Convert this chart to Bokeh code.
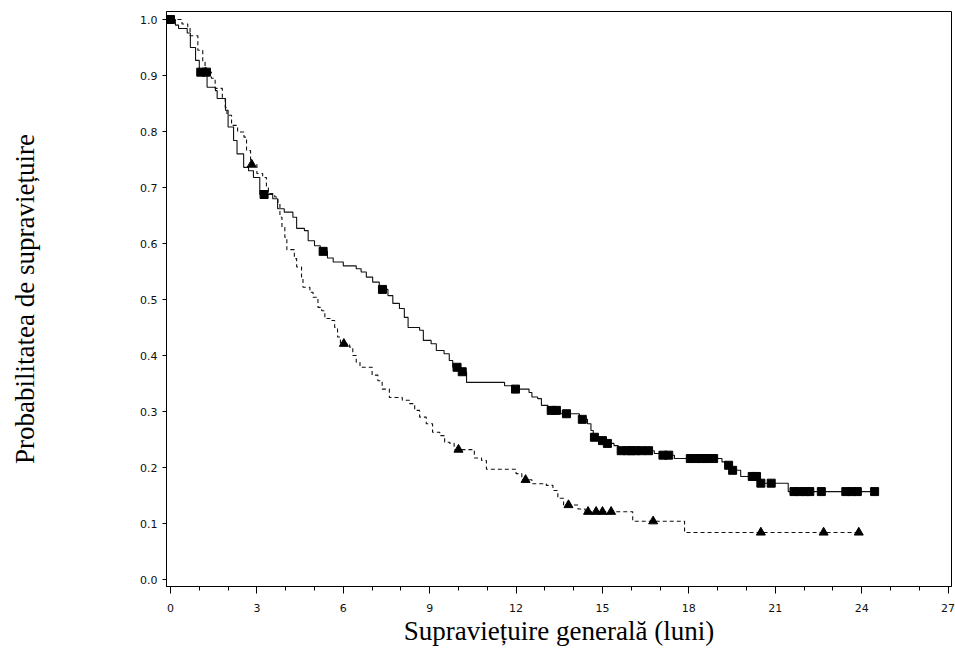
import numpy as np
from bokeh.plotting import figure
from bokeh.models import FixedTicker, NumeralTickFormatter, Range1d
from bokeh.embed import file_html
from bokeh.resources import INLINE

# Group A (solid line, square censor marks): event times and survival after each step
time_a = [0, 0.17, 0.28, 0.58, 0.69, 0.87, 1.0, 1.27, 1.56, 1.62, 1.91, 2.0, 2.19, 2.31,
          2.54, 2.71, 2.88, 3.1, 3.55, 3.72, 3.95, 4.25, 4.38, 4.65, 4.78, 5.0, 5.2,
          5.45, 5.65, 6.0, 6.45, 6.62, 6.8, 7.02, 7.25, 7.55, 7.72, 7.95, 8.12, 8.25,
          8.65, 8.78, 9.05, 9.23, 9.5, 9.68, 9.8, 10.05, 10.28, 11.6, 11.9, 12.45,
          12.55, 12.75, 12.88, 13.1, 13.55, 14.2, 14.48, 14.6, 14.68, 14.95, 15.12,
          15.4, 15.55, 16.8, 17.05, 17.5, 19.15, 19.35, 19.48, 19.8, 20.45, 21.45]
surv_a = [1.0, 0.99, 0.984, 0.976, 0.95, 0.927, 0.906, 0.879, 0.873, 0.859, 0.838, 0.808,
          0.784, 0.76, 0.736, 0.73, 0.718, 0.6875, 0.68, 0.662, 0.656, 0.647, 0.627,
          0.623, 0.605, 0.596, 0.586, 0.574, 0.567, 0.56, 0.555, 0.549, 0.54, 0.531,
          0.518, 0.507, 0.493, 0.484, 0.468, 0.45, 0.445, 0.427, 0.421, 0.409, 0.403,
          0.391, 0.379, 0.371, 0.352, 0.346, 0.34, 0.334, 0.326, 0.323, 0.311, 0.302,
          0.296, 0.286, 0.278, 0.266, 0.254, 0.248, 0.243, 0.239, 0.23, 0.225, 0.222,
          0.216, 0.21, 0.204, 0.195, 0.184, 0.172, 0.157]
cens_a = [0.0, 1.05, 1.25, 3.25, 5.3, 7.36, 9.95, 10.13, 11.98, 13.22, 13.4, 13.75, 14.3,
          14.72, 15.0, 15.17, 15.65, 15.86, 16.0, 16.15, 16.35, 16.6, 17.1, 17.3, 18.05,
          18.25, 18.45, 18.6, 18.86, 19.38, 19.52, 20.2, 20.35, 20.5, 20.86, 21.65,
          21.85, 22.05, 22.2, 22.6, 23.45, 23.65, 23.85, 24.45]
end_a = 24.5

# Group B (dashed line, triangle censor marks)
time_b = [0, 0.4, 0.6, 0.68, 0.95, 1.12, 1.2, 1.42, 1.55, 1.8, 1.9, 1.96, 2.12, 2.33,
          2.55, 2.64, 2.78, 3.0, 3.2, 3.33, 3.4, 3.62, 3.73, 3.8, 3.87, 3.97, 4.04, 4.3,
          4.38, 4.55, 4.6, 4.84, 4.95, 5.12, 5.25, 5.36, 5.54, 5.7, 5.8, 5.9, 6.22,
          6.33, 6.45, 6.58, 7.0, 7.2, 7.35, 7.6, 8.05, 8.3, 8.48, 8.65, 8.88, 9.1, 9.35,
          9.52, 9.7, 9.85, 10.55, 10.8, 10.97, 12.0, 12.2, 12.55, 13.05, 13.28, 13.45,
          13.65, 14.15, 14.4, 16.05, 17.85]
surv_b = [1.0, 0.992, 0.986, 0.971, 0.945, 0.924, 0.906, 0.895, 0.877, 0.859, 0.843,
          0.829, 0.811, 0.799, 0.79, 0.766, 0.741, 0.725, 0.718, 0.70, 0.689, 0.683,
          0.671, 0.647, 0.629, 0.611, 0.589, 0.573, 0.558, 0.54, 0.522, 0.513, 0.504,
          0.486, 0.48, 0.466, 0.4625, 0.45, 0.433, 0.421, 0.415, 0.4, 0.388, 0.379,
          0.365, 0.355, 0.34, 0.325, 0.32, 0.314, 0.302, 0.29, 0.278, 0.263, 0.257,
          0.245, 0.243, 0.232, 0.217, 0.2125, 0.197, 0.189, 0.178, 0.171, 0.168, 0.159,
          0.145, 0.133, 0.126, 0.121, 0.104, 0.084]
cens_b = [1.22, 2.82, 6.02, 10.0, 12.33, 13.82, 14.5, 14.78, 15.0, 15.3, 16.76, 20.5,
          22.68, 23.9]
end_b = 23.9

x_ticks = [0, 3, 6, 9, 12, 15, 18, 21, 24, 27]
y_ticks = [0.0, 0.1, 0.2, 0.3, 0.4, 0.5, 0.6, 0.7, 0.8, 0.9, 1.0]

x_label = "Supraviețuire generală (luni)"
y_label = "Probabilitatea de supraviețuire"


def surv_at(times, surv, t):
    idx = np.searchsorted(np.asarray(times), np.asarray(t), side="right") - 1
    return [surv[i] for i in idx]


p = figure(width=955, height=649, output_backend="svg", toolbar_location=None,
           x_range=Range1d(-0.139, 27.12), y_range=Range1d(-0.0125, 1.0143),
           min_border_left=166, min_border_right=4, min_border_top=11,
           min_border_bottom=63)
p.background_fill_color = "white"
p.border_fill_color = "white"
p.outline_line_color = "black"
p.outline_line_width = 1
p.xgrid.visible = False
p.ygrid.visible = False

# Curves
p.step(time_a + [end_a], surv_a + [surv_a[-1]], mode="after",
       line_color="#111111", line_width=1.1)
p.step(time_b + [end_b], surv_b + [surv_b[-1]], mode="after",
       line_color="#111111", line_width=1.1, line_dash="4 3")

p.scatter(cens_a, surv_at(time_a, surv_a, cens_a), marker="square", size=8,
          fill_color="black", line_color="black")
p.scatter(cens_b, surv_at(time_b, surv_b, cens_b), marker="triangle", size=9,
          fill_color="black", line_color="black")

# Axes
p.xaxis.ticker = FixedTicker(ticks=x_ticks, minor_ticks=list(range(0, 28)))
p.yaxis.ticker = FixedTicker(ticks=y_ticks, minor_ticks=[])
p.yaxis.formatter = NumeralTickFormatter(format="0.0")

for ax in (p.xaxis[0], p.yaxis[0]):
    ax.axis_line_color = "black"
    ax.major_tick_line_color = "black"
    ax.minor_tick_line_color = "black"
    ax.major_tick_in = 0
    ax.minor_tick_in = 0
    ax.major_label_text_font = "DejaVu Sans"
    ax.major_label_text_font_size = "11px"
    ax.major_label_text_color = "#111111"
    ax.axis_label_text_font = "Liberation Serif"
    ax.axis_label_text_font_style = "normal"
    ax.axis_label_text_font_size = "27px"
    ax.axis_label_text_color = "black"

p.xaxis.major_tick_out = 7
p.xaxis.minor_tick_out = 4
p.xaxis.major_label_standoff = 10
p.xaxis.axis_label = x_label
p.xaxis.axis_label_standoff = 1

p.yaxis.major_tick_out = 4
p.yaxis.minor_tick_out = 0
p.yaxis.major_label_standoff = 5
p.yaxis.axis_label = y_label
p.yaxis.axis_label_standoff = 97

open("out.html", "w").write(file_html(p, INLINE))
